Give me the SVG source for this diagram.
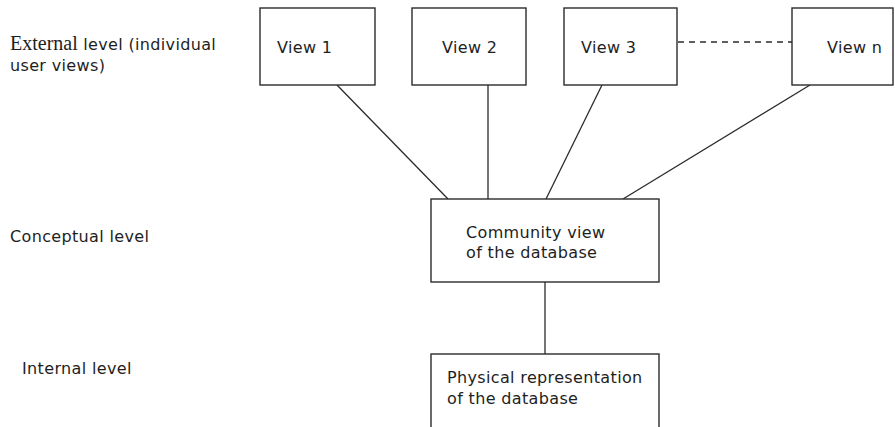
<svg xmlns="http://www.w3.org/2000/svg" width="895" height="427" viewBox="0 0 895 427">
  <style>
    .box { fill: #ffffff; stroke: #2b2b2b; stroke-width: 1.4; }
    .link { stroke: #2b2b2b; stroke-width: 1.3; fill: none; }
    .dash { stroke-dasharray: 6 5; }
    text { font-family: "DejaVu Sans", Verdana, sans-serif; font-size: 16px; letter-spacing: 0.35px; fill: #1e1e1e; }
    .serif { font-family: "Liberation Serif", "Times New Roman", serif; font-size: 20px; letter-spacing: 0; }
  </style>
  <rect width="895" height="427" fill="#ffffff"/>

  <!-- level labels -->
  <g id="labels">
    <text x="10" y="50"><tspan class="serif">External</tspan> level (individual</text>
    <text x="10" y="71">user views)</text>
    <text x="10" y="242">Conceptual level</text>
    <text x="22" y="374">Internal level</text>
  </g>

  <!-- connectors -->
  <g id="connectors">
    <line class="link" x1="337" y1="85" x2="448" y2="199"/>
    <line class="link" x1="488" y1="85" x2="488" y2="199"/>
    <line class="link" x1="602" y1="85" x2="546" y2="199"/>
    <line class="link" x1="810" y1="85" x2="623" y2="199"/>
    <line class="link dash" x1="678" y1="42" x2="792" y2="42"/>
    <line class="link" x1="545" y1="282" x2="545" y2="354"/>
  </g>

  <g id="view1">
    <rect class="box" x="260" y="8" width="115" height="77"/>
    <text x="277" y="53">View 1</text>
  </g>
  <g id="view2">
    <rect class="box" x="412" y="8" width="114" height="77"/>
    <text x="442" y="53">View 2</text>
  </g>
  <g id="view3">
    <rect class="box" x="564" y="8" width="113" height="77"/>
    <text x="581" y="53">View 3</text>
  </g>
  <g id="viewN">
    <rect class="box" x="792" y="8" width="101" height="77"/>
    <text x="827" y="53">View n</text>
  </g>

  <g id="conceptual">
    <rect class="box" x="431" y="199" width="228" height="83"/>
    <text x="466" y="238">Community view</text>
    <text x="466" y="258">of the database</text>
  </g>

  <g id="internal">
    <rect class="box" x="431" y="354" width="228" height="90"/>
    <text x="447" y="383">Physical representation</text>
    <text x="447" y="404">of the database</text>
  </g>
</svg>
